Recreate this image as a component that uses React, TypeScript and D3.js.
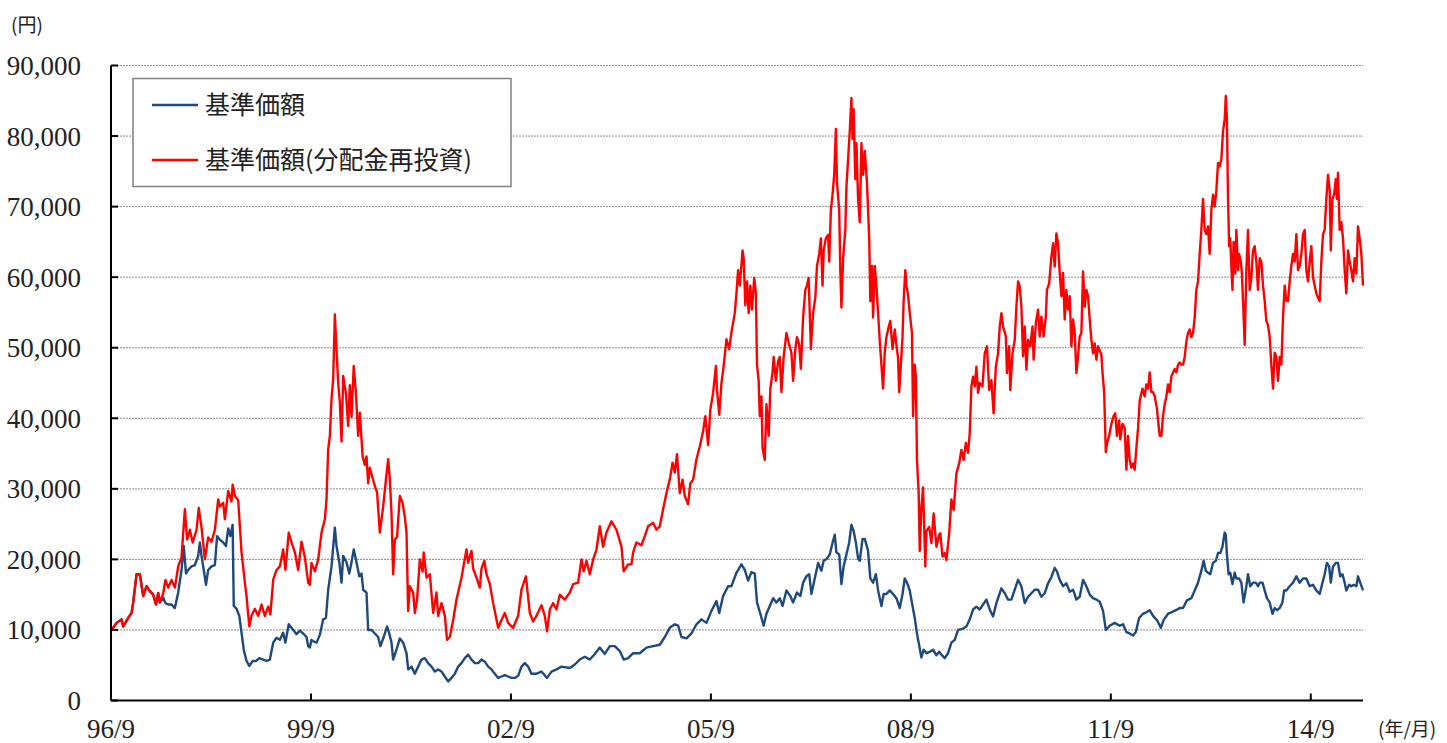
import React from "react";
import * as d3 from "d3";

// month offsets since 1996/9, value in yen
const reinvested: [number, number][] = [
  [0.1,10000],[1.0,11000],[1.9,11500],[2.2,10500],[3.1,11700],[3.7,12400],[4.0,13900],[4.6,17900],[5.2,17900],[5.8,14800],
  [6.4,16200],[7.0,15500],[7.6,15000],[8.1,13600],[8.5,15200],[8.8,13900],[9.4,15200],[9.8,17100],[10.3,16000],[10.9,17100],
  [11.5,16000],[12.1,19000],[12.7,20300],[13.3,27100],[13.7,22800],[14.2,24200],[14.7,22400],[15.4,24200],[15.8,27300],[16.3,24500],
  [16.9,20000],[17.5,23100],[18.1,22500],[18.7,24200],[19.3,28500],[19.6,27500],[20.2,28000],[20.5,25700],[21.1,29700],[21.7,28200],
  [21.9,30600],[22.3,29000],[22.9,28400],[23.5,21000],[24.1,16700],[24.4,14800],[24.9,10500],[25.3,12000],[25.9,13000],[26.5,12000],
  [27.1,13600],[27.7,12000],[28.3,13300],[28.7,12200],[29.2,17100],[29.8,18500],[30.4,19000],[31.0,21400],[31.4,18500],[32.0,23800],
  [32.5,22400],[33.1,21000],[33.7,18500],[34.3,22500],[34.9,20300],[35.5,16700],[35.8,16400],[36.1,19500],[36.7,18300],[37.3,20000],
  [37.9,23800],[38.5,25700],[38.8,28500],[39.1,35600],[39.4,37500],[39.7,42700],[40.0,45500],[40.3,54700],[40.6,49700],[40.9,45000],
  [41.2,42200],[41.5,36700],[41.8,46000],[42.3,43500],[42.7,38900],[43.0,44700],[43.3,40200],[43.7,47400],[44.1,43500],[44.5,37500],
  [44.8,40800],[45.3,34600],[45.7,33400],[46.0,34600],[46.3,30800],[46.6,33000],[46.9,32100],[47.5,30400],[47.9,29500],[48.4,23800],
  [49.0,27500],[49.5,31300],[49.9,34200],[50.2,31300],[50.5,26600],[50.8,17900],[51.1,22800],[51.5,23200],[52.0,29000],[52.5,28000],
  [52.9,26000],[53.2,23800],[53.5,12700],[53.8,16200],[54.4,15300],[54.7,12400],[55.1,14300],[55.6,20000],[56.1,18300],[56.3,21000],
  [56.8,17400],[57.4,17900],[58.0,12400],[58.6,15300],[58.9,12000],[59.5,13800],[60.1,12000],[60.5,8600],[61.0,9000],[61.6,11400],
  [62.2,14300],[63.1,17400],[64.0,21400],[64.3,19500],[64.9,21200],[65.2,18700],[65.8,17400],[66.4,16000],[66.7,18700],[67.2,19800],
  [67.6,17900],[68.2,16500],[68.8,13800],[69.7,10300],[70.3,11400],[70.9,12400],[71.5,11000],[72.4,10300],[73.3,12000],[73.9,15700],
  [74.7,17600],[75.4,12400],[76.0,11200],[76.6,12000],[77.5,13500],[78.1,12000],[78.5,9800],[79.0,12900],[79.6,13800],[80.2,12900],
  [80.8,15000],[81.7,14300],[82.6,15300],[83.2,16500],[84.1,16700],[84.7,20000],[85.1,18300],[85.6,19800],[86.2,17900],[86.8,20000],
  [87.4,21400],[88.0,24700],[88.6,21800],[89.2,23800],[90.1,25400],[91.0,24200],[91.9,21800],[92.3,18300],[93.1,19300],[93.7,19300],
  [94.0,21000],[94.6,22400],[95.5,22000],[96.1,23300],[96.7,24700],[97.6,25200],[98.2,24200],[98.8,24700],[99.4,27100],[100.0,29400],
  [100.6,31300],[101.1,33700],[101.5,32300],[101.9,34900],[102.4,29400],[102.9,31300],[103.3,29000],[103.9,27800],[104.3,30800],[104.8,31300],
  [105.4,34200],[106.0,36000],[106.6,38200],[107.0,40300],[107.5,36200],[107.9,41200],[108.4,43600],[108.9,47400],[109.1,44000],[109.5,40500],
  [109.9,45000],[110.3,47400],[110.8,51200],[111.3,49800],[111.7,52200],[112.3,54900],[112.6,57700],[112.9,61000],[113.2,58800],[113.7,63800],
  [113.9,62700],[114.2,56000],[114.5,59400],[114.8,54900],[115.1,58800],[115.4,55400],[115.8,59900],[116.1,57700],[116.3,47600],[116.6,45300],
  [116.8,40300],[117.1,43100],[117.3,35800],[117.7,34100],[118.0,42000],[118.4,37500],[118.7,44200],[119.1,46500],[119.3,48700],[119.7,45300],
  [120.1,48100],[120.4,48700],[120.7,43700],[121.1,48700],[121.6,52100],[122.1,50400],[122.5,49300],[122.8,45300],[123.2,49800],[123.5,51500],
  [123.9,50400],[124.2,47000],[124.6,54300],[125.0,58200],[125.3,58800],[125.6,59900],[126.0,49800],[126.4,54900],[126.8,57100],[127.1,61600],
  [127.5,63300],[127.8,65500],[128.1,58800],[128.3,63800],[128.7,65500],[129.1,66000],[129.3,62200],[129.6,69500],[129.9,71700],[130.2,74500],
  [130.5,81000],[130.7,73400],[131.1,69500],[131.3,61000],[131.5,55700],[131.8,62700],[132.2,66700],[132.4,72800],[132.7,76700],[133.0,80700],
  [133.3,85400],[133.5,79600],[133.7,83800],[134.0,73900],[134.2,79000],[134.5,71100],[134.8,67800],[135.1,79000],[135.4,74500],[135.7,77900],
  [136.1,73400],[136.5,65500],[136.7,56600],[137.0,61600],[137.2,54300],[137.5,61600],[137.8,58800],[138.1,54900],[138.4,51000],[138.7,47600],
  [139.0,44200],[139.3,49300],[139.6,51500],[139.9,52600],[140.3,53800],[140.7,49800],[141.1,52600],[141.4,50400],[141.7,48500],[141.9,43700],
  [142.2,47600],[142.5,51500],[142.7,56600],[143.0,61000],[143.2,58800],[143.5,57500],[143.8,54900],[144.2,52100],[144.4,40300],[144.7,47600],
  [144.9,45900],[145.1,34100],[145.4,29600],[145.6,21200],[145.9,27400],[146.2,30200],[146.6,19000],[146.8,24000],[147.3,24600],[147.7,22300],
  [148.1,26500],[148.6,21800],[149.1,23500],[149.3,23700],[149.7,20400],[150.1,20900],[150.4,19900],[150.9,23700],[151.3,28500],[151.7,27000],
  [152.2,32200],[152.7,33600],[153.1,35500],[153.5,34100],[153.9,36500],[154.3,35100],[154.6,37900],[154.9,44500],[155.2,45900],[155.5,44500],
  [155.8,47300],[156.1,43600],[156.4,45000],[156.9,44500],[157.3,49200],[157.7,50200],[158.1,44000],[158.5,45400],[158.9,40700],[159.3,47300],
  [159.7,49200],[160.0,53000],[160.3,54900],[160.6,53000],[161.1,51600],[161.3,46400],[161.7,50200],[161.9,44000],[162.3,49200],[162.7,51100],
  [163.0,55800],[163.3,59400],[163.6,58700],[163.9,55800],[164.2,48800],[164.5,53000],[164.8,46900],[165.1,51100],[165.5,50200],[165.9,53000],
  [166.1,48300],[166.5,53500],[166.9,55400],[167.2,51600],[167.5,54400],[167.9,51600],[168.3,54400],[168.5,58200],[168.9,59100],[169.3,62900],
  [169.6,64800],[169.9,61500],[170.2,66200],[170.5,64800],[170.8,60600],[171.1,57300],[171.4,60600],[171.7,54000],[172.0,58200],[172.3,55400],
  [172.6,57300],[172.9,50200],[173.2,54000],[173.5,52100],[173.8,46400],[174.1,48800],[174.4,51600],[174.7,52100],[175.0,60800],[175.3,55800],
  [175.6,58200],[175.9,57300],[176.2,54000],[176.5,51100],[176.8,49200],[177.1,50600],[177.4,48300],[177.7,50200],[178.0,49600],[178.3,49000],
  [178.5,46500],[178.8,43700],[179.1,35200],[179.3,36400],[179.7,37500],[180.1,39200],[180.5,40300],[180.8,40700],[181.1,37500],[181.5,39700],
  [181.7,37000],[182.1,39200],[182.5,38600],[182.8,32700],[183.1,37500],[183.4,34100],[183.7,33000],[184.0,33600],[184.3,32700],[184.6,35800],
  [184.9,38600],[185.2,42500],[185.7,44200],[186.1,43100],[186.4,44800],[186.7,44200],[187.0,46500],[187.3,43700],[187.6,43700],[187.9,43100],
  [188.3,41400],[188.5,39700],[188.8,37500],[189.1,37500],[189.4,40300],[189.7,42000],[190.0,43100],[190.3,44800],[190.6,43700],[190.9,45900],
  [191.2,46500],[191.5,47000],[191.8,46500],[192.1,47600],[192.4,47900],[192.7,47600],[193.0,47600],[193.3,48700],[193.6,50900],[193.9,52100],
  [194.2,52600],[194.5,51500],[194.8,52100],[195.1,54300],[195.4,58200],[195.7,59400],[196.0,63300],[196.3,66700],[196.6,71100],[196.9,66700],
  [197.2,66100],[197.5,67200],[197.8,63300],[198.1,69500],[198.4,71700],[198.7,70000],[199.0,72300],[199.3,76200],[199.6,75700],[199.9,76700],
  [200.2,80700],[200.5,82400],[200.7,85700],[200.9,82400],[201.1,71100],[201.3,64400],[201.5,65500],[201.7,61600],[201.9,58200],[202.1,65000],
  [202.4,60500],[202.6,66700],[202.9,61000],[203.1,63300],[203.4,62200],[203.6,60500],[203.8,56600],[204.1,50400],[204.4,61000],[204.7,66700],
  [205.0,58200],[205.3,59900],[205.6,63800],[205.9,64400],[206.2,62200],[206.5,58200],[206.8,62700],[207.1,62200],[207.4,58800],[207.7,56600],
  [208.0,53800],[208.3,53200],[208.6,51500],[208.9,47600],[209.2,44200],[209.5,49300],[209.8,48700],[210.1,45300],[210.4,48700],[210.7,47600],
  [211.0,54300],[211.3,58800],[211.6,56600],[211.9,56600],[212.2,59400],[212.5,61600],[212.8,63300],[213.1,62200],[213.4,66100],[213.7,61000],
  [214.0,61600],[214.3,63300],[214.6,66100],[214.9,66700],[215.2,61000],[215.5,59400],[215.8,62200],[216.1,64400],[216.4,60000],[216.7,58800],
  [217.0,57700],[217.3,57100],[217.6,56600],[217.9,62200],[218.2,66100],[218.5,66700],[218.8,71100],[219.1,74500],[219.4,72300],[219.6,63800],
  [219.9,71100],[220.2,71700],[220.5,73900],[220.7,71100],[220.9,74800],[221.2,66700],[221.5,67800],[221.8,65500],[222.1,61000],[222.4,57700],
  [222.7,63800],[223.0,62200],[223.3,61000],[223.6,59400],[223.9,62700],[224.2,60500],[224.5,67200],[224.8,65500],[225.1,63300],[225.4,58800]
];

const nav: [number, number][] = [
  [0.1,10000],[1.0,11000],[1.9,11500],[2.2,10500],[3.1,11700],[3.7,12400],[4.0,13900],[4.6,17900],[5.2,17900],[5.8,14800],
  [6.4,16200],[7.0,15500],[7.6,15000],[8.1,13600],[8.5,15200],[8.8,13900],[9.4,14600],[9.8,13800],[10.3,13600],[10.9,13600],
  [11.5,13100],[12.1,15300],[12.7,18500],[13.1,21900],[13.5,18000],[13.9,18500],[14.5,19000],[15.1,19200],[15.7,20500],[16.0,22400],
  [16.3,20500],[16.7,18500],[17.1,16400],[17.5,18500],[18.1,19000],[18.7,19200],[19.1,23300],[19.6,22800],[20.2,22400],[20.7,21900],
  [21.1,24400],[21.5,23300],[21.9,24900],[22.1,13400],[22.6,13000],[23.1,12000],[23.5,9600],[23.9,7200],[24.4,5600],[24.9,4900],
  [25.5,5600],[26.1,5600],[26.7,6000],[27.4,5800],[28.0,5600],[28.6,5800],[29.2,8200],[29.8,8900],[30.4,8600],[31.0,9600],
  [31.4,8200],[32.0,10800],[32.7,10100],[33.4,9400],[34.0,9900],[34.6,9500],[35.2,9000],[35.5,7700],[35.8,7500],[36.1,8600],
  [36.4,8400],[37.0,8200],[37.6,9300],[38.2,11500],[38.7,11700],[39.1,15700],[39.7,19000],[40.3,24500],[40.6,21900],[41.1,19600],
  [41.5,16700],[41.8,20500],[42.4,19600],[42.9,18000],[43.3,19600],[43.7,21400],[44.2,19600],[44.7,17600],[45.1,18000],[45.4,15700],
  [46.0,15300],[46.3,10000],[46.9,10000],[47.5,9500],[48.1,9000],[48.5,7700],[49.1,9000],[49.7,10500],[50.1,9500],[50.5,8200],
  [50.8,5800],[51.4,7200],[52.0,8800],[52.6,8200],[53.2,6700],[53.5,4400],[54.1,4800],[54.7,3800],[55.3,4800],[55.9,5800],
  [56.5,6000],[57.1,5300],[57.7,4800],[58.3,4100],[58.9,4400],[59.5,4100],[60.1,3400],[60.7,2700],[61.3,3200],[61.9,3800],
  [62.5,4800],[63.1,5300],[63.7,6000],[64.3,6500],[64.9,5800],[65.5,5300],[66.1,5300],[66.7,5800],[67.3,5500],[67.9,4800],
  [68.5,4400],[69.1,3800],[69.7,3200],[70.3,3400],[70.9,3600],[71.5,3400],[72.1,3200],[72.7,3200],[73.3,3500],[73.9,4800],
  [74.5,5300],[75.1,4800],[75.7,3800],[76.6,3800],[77.5,4100],[78.5,3200],[79.3,4100],[80.2,4400],[81.1,4800],[82.6,4600],
  [83.5,5100],[84.4,5800],[85.3,6200],[86.2,5800],[87.1,6600],[88.0,7500],[88.9,6600],[89.8,7700],[90.7,7700],[91.6,7000],
  [92.3,5800],[93.1,6000],[94.0,6700],[95.2,6700],[96.4,7500],[97.6,7700],[98.8,7900],[99.7,9000],[100.6,10300],[101.5,10800],
  [102.1,10600],[102.7,9000],[103.6,8800],[104.5,9500],[105.4,10800],[106.3,11500],[107.2,11000],[108.1,12700],[109.0,14100],[109.5,12400],
  [110.2,14800],[111.1,16200],[111.7,16200],[112.6,18100],[113.5,19300],[114.1,18500],[114.7,17000],[115.3,18200],[115.9,18000],[116.3,13900],
  [116.9,12300],[117.5,10600],[118.0,12300],[118.6,13400],[119.2,14500],[119.8,13900],[120.4,14500],[120.9,13400],[121.6,15600],[122.3,14800],
  [122.8,13900],[123.5,15300],[124.1,14800],[124.6,16700],[125.2,17600],[125.7,17900],[126.1,15100],[126.7,17300],[127.3,19500],[127.9,18400],
  [128.3,19800],[128.9,20100],[129.4,20700],[129.9,22350],[130.3,23500],[130.6,21000],[131.1,20700],[131.5,16500],[131.9,19000],[132.4,20700],
  [132.9,22400],[133.3,24900],[133.7,24000],[134.1,22400],[134.5,20100],[134.8,19800],[135.3,22900],[135.7,22900],[136.3,21200],[136.7,17300],
  [137.2,16700],[137.7,17900],[138.1,15600],[138.7,13400],[139.1,15100],[139.6,15100],[140.2,15600],[140.8,15100],[141.4,14500],[142.0,13100],
  [142.5,15100],[142.9,17300],[143.3,16700],[143.8,15600],[144.3,13400],[144.7,11700],[145.1,9500],[145.5,7800],[145.9,6100],[146.3,7200],
  [146.8,6700],[147.4,6900],[148.0,7200],[148.6,6400],[149.1,6900],[149.5,6500],[150.1,6000],[150.7,6700],[151.3,8200],[151.9,8600],
  [152.5,10000],[153.4,10200],[154.0,10500],[154.6,11500],[155.2,12900],[155.8,13300],[156.4,12900],[157.0,13600],[157.6,14300],[158.2,12900],
  [158.8,11900],[159.4,13800],[160.0,15200],[160.3,15900],[160.9,15200],[161.5,14300],[162.1,14300],[162.7,15700],[163.3,17100],[163.9,16200],
  [164.5,13800],[165.1,14700],[165.7,15200],[166.3,15700],[166.9,15700],[167.5,14700],[168.1,15200],[168.7,16600],[169.3,17500],[169.9,18800],
  [170.3,18300],[170.8,17100],[171.4,16200],[172.0,16600],[172.6,15400],[173.2,15700],[173.8,14300],[174.4,14700],[175.0,17100],[175.6,16200],
  [176.2,15000],[176.8,14500],[177.4,14300],[178.0,14000],[178.6,12700],[179.1,10000],[179.8,10600],[180.7,11000],[181.6,10600],[182.2,10800],
  [182.8,9700],[183.4,9500],[184.0,9200],[184.5,9700],[185.1,11700],[185.8,12300],[186.4,12500],[187.0,12800],[187.6,12000],[188.3,11400],
  [189.0,10300],[189.5,11400],[190.3,12300],[190.9,12500],[191.7,12800],[192.4,13100],[193.0,13100],[193.7,14200],[194.5,14500],[195.1,15600],
  [195.7,16700],[196.3,18400],[196.7,19800],[197.1,18400],[197.5,18100],[197.9,17900],[198.4,19500],[198.9,19800],[199.3,20900],[199.7,20900],
  [200.1,21800],[200.5,23800],[200.7,23500],[200.9,20700],[201.2,17900],[201.5,18100],[201.9,16500],[202.3,18100],[202.6,17300],[203.1,17300],
  [203.5,16700],[203.9,13900],[204.4,16200],[204.7,17900],[205.1,16200],[205.6,16700],[206.1,16700],[206.5,16200],[206.8,16700],[207.3,16700],
  [207.7,15600],[208.1,14500],[208.6,13900],[209.1,12300],[209.5,13100],[209.9,12800],[210.4,13100],[210.9,13900],[211.2,15600],[211.6,15600],
  [212.2,16200],[212.8,16700],[213.4,17600],[214.0,16700],[214.6,17300],[215.2,17300],[215.8,16200],[216.4,16400],[217.0,15600],[217.6,15100],
  [218.1,16700],[218.5,17900],[218.9,19500],[219.3,19000],[219.6,16700],[220.0,19000],[220.5,19500],[220.9,19500],[221.3,17600],[221.7,17900],
  [222.1,16700],[222.4,15600],[222.9,16400],[223.3,16200],[223.7,16400],[224.2,16200],[224.5,17600],[224.9,16700],[225.4,15600]
];

const yTicks = [0, 10000, 20000, 30000, 40000, 50000, 60000, 70000, 80000, 90000];
const xTickMonths = [0, 36, 72, 108, 144, 180, 216];
const xTickLabels = ["96/9", "99/9", "02/9", "05/9", "08/9", "11/9", "14/9"];
const seriesNames = ["基準価額", "基準価額(分配金再投資)"];
const seriesColors = ["#1F497D", "#FF0000"];

const W = 1447;
const H = 743;
const left = 111;
const right = 1363;
const top = 65.5;
const bottom = 700.5;

export default function App() {
  const x = d3.scaleLinear().domain([0, 225.4]).range([left, right]);
  const y = d3.scaleLinear().domain([0, 90000]).range([bottom, top]);
  const line = d3
    .line<[number, number]>()
    .x((d) => x(d[0]))
    .y((d) => y(d[1]));
  const fmt = d3.format(",");
  const numFont = "'Liberation Serif', 'DejaVu Serif', serif";
  const jpFont = "'Noto Sans CJK JP', sans-serif";

  return (
    <svg
      width={W}
      height={H}
      style={{ position: "absolute", left: 0, top: 0, background: "#fff" }}
    >
      <rect x={0} y={0} width={W} height={H} fill="#fff" />
      {/* gridlines */}
      {yTicks
        .filter((t) => t > 0)
        .map((t) => (
          <line
            key={"g" + t}
            x1={left}
            x2={right}
            y1={y(t)}
            y2={y(t)}
            stroke="#8c8c8c"
            strokeWidth={1}
            strokeDasharray="2,1"
          />
        ))}
      {/* series */}
      <path d={line(nav) || ""} fill="none" stroke={seriesColors[0]} strokeWidth={2.4} strokeLinejoin="round" />
      <path d={line(reinvested) || ""} fill="none" stroke={seriesColors[1]} strokeWidth={2.4} strokeLinejoin="round" />
      {/* axes */}
      <line x1={left} x2={left} y1={top} y2={bottom} stroke="#000" strokeWidth={2} />
      <line x1={left} x2={right} y1={bottom} y2={bottom} stroke="#000" strokeWidth={2} />
      {yTicks.map((t) => (
        <g key={"y" + t}>
          <line x1={left} x2={left + 7} y1={y(t)} y2={y(t)} stroke="#000" strokeWidth={2} />
          <text
            x={81}
            y={y(t)}
            dy="0.35em"
            textAnchor="end"
            fontFamily={numFont}
            fontSize={27}
            fill="#222"
          >
            {fmt(t)}
          </text>
        </g>
      ))}
      {xTickMonths.map((m, i) => (
        <g key={"x" + m}>
          <line x1={x(m)} x2={x(m)} y1={bottom} y2={bottom - 7} stroke="#000" strokeWidth={2} />
          <text
            x={x(m)}
            y={738}
            textAnchor="middle"
            fontFamily={numFont}
            fontSize={27}
            fill="#222"
          >
            {xTickLabels[i]}
          </text>
        </g>
      ))}
      <text x={11} y={32} fontFamily={jpFont} fontSize={19} fill="#222">
        (円)
      </text>
      <text x={1378} y={736} fontFamily={jpFont} fontSize={19} fill="#222">
        (年/月)
      </text>
      {/* legend */}
      <rect x={133} y={78.5} width={378} height={108} fill="#fff" stroke="#808080" strokeWidth={1.5} />
      {seriesNames.map((n, i) => (
        <g key={n}>
          <line
            x1={152}
            x2={198}
            y1={105 + i * 55}
            y2={105 + i * 55}
            stroke={seriesColors[i]}
            strokeWidth={2.4}
          />
          <text
            x={205}
            y={105 + i * 55}
            dy="0.36em"
            fontFamily={jpFont}
            fontSize={25}
            fill="#222"
          >
            {n}
          </text>
        </g>
      ))}
    </svg>
  );
}
